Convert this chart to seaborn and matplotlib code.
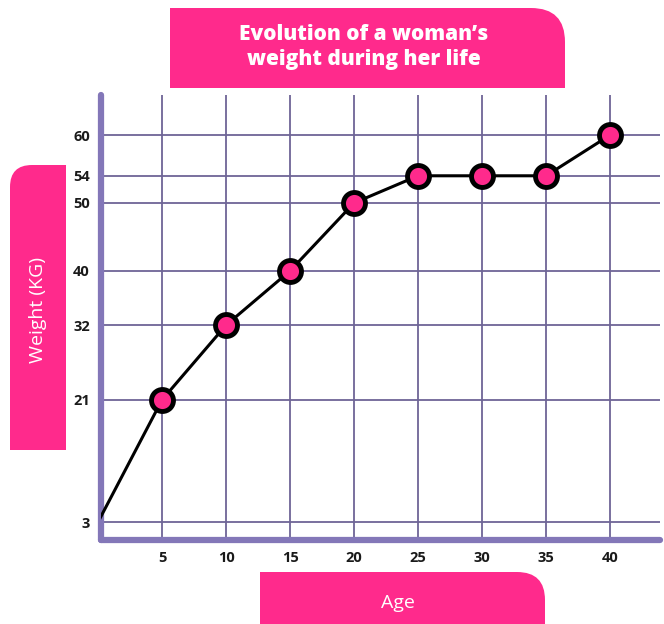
import matplotlib
matplotlib.use("Agg")
import matplotlib.pyplot as plt
from matplotlib.patches import FancyBboxPatch, Rectangle
import pandas as pd
import seaborn as sns

# Daten
alter = [0, 5, 10, 15, 20, 25, 30, 35, 40]
gewicht = [3, 21, 32, 40, 50, 54, 54, 54, 60]
x_ticks = [5, 10, 15, 20, 25, 30, 35, 40]
y_ticks = [3, 21, 32, 40, 50, 54, 60]

titel = "Evolution of a woman\u2019s\nweight during her life"
x_label = "Age"
y_label = "Weight (KG)"

PINK = "#ff2a8c"
LILA = "#8377b8"
GRID = "#6e6596"

df = pd.DataFrame({"alter": alter, "gewicht": gewicht})

sns.set_style("white")
plt.rcParams["font.family"] = ["Open Sans", "DejaVu Sans"]

fig = plt.figure(figsize=(6.64, 6.24), dpi=100)

# Hintergrund-Achse in Pixelkoordinaten fuer die pinken Kaesten
bg = fig.add_axes([0, 0, 1, 1], zorder=0)
bg.set_xlim(0, 664)
bg.set_ylim(624, 0)
bg.axis("off")


def kasten(x0, y0, x1, y1, r, ecke):
    """Pinker Kasten mit einer abgerundeten Ecke"""
    bg.add_patch(FancyBboxPatch((x0, y0), x1 - x0, y1 - y0,
                                boxstyle=f"round,pad=0,rounding_size={r}",
                                fc=PINK, ec="none"))
    if ecke == "oben_rechts":
        bg.add_patch(Rectangle((x0, y0), x1 - x0 - r, y1 - y0, fc=PINK, ec="none"))
        bg.add_patch(Rectangle((x0, y0 + r), x1 - x0, y1 - y0 - r, fc=PINK, ec="none"))
    else:  # oben_links
        bg.add_patch(Rectangle((x0 + r, y0), x1 - x0 - r, y1 - y0, fc=PINK, ec="none"))
        bg.add_patch(Rectangle((x0, y0 + r), x1 - x0, y1 - y0 - r, fc=PINK, ec="none"))


kasten(170, 8, 565, 88, 34, "oben_rechts")
kasten(10, 165, 66, 450, 22, "oben_links")
kasten(260, 572, 545, 640, 28, "oben_rechts")

bg.text(364, 47, titel, color="white", fontsize=15, fontweight="heavy",
        ha="center", va="center", linespacing=1.25)
bg.text(38, 310, y_label, color="white", fontsize=14, rotation=90,
        ha="center", va="center")
bg.text(398, 603, x_label, color="white", fontsize=14, ha="center", va="center")

# Hauptdiagramm
ax = fig.add_axes([101 / 664, 1 - 540 / 624, (660 - 101) / 664, (540 - 95) / 624], zorder=1)
ax.patch.set_alpha(0)

sns.lineplot(data=df, x="alter", y="gewicht", ax=ax, color="black", lw=2.2, zorder=3)
sns.scatterplot(data=df[df["alter"] > 0], x="alter", y="gewicht", ax=ax,
                s=250, color=PINK, edgecolor="black", linewidth=3.5, zorder=4)

ax.set_xlim(0.23, 43.9)
ax.set_ylim(0.35, 65.9)
ax.set_xticks(x_ticks)
ax.set_yticks(y_ticks)
ax.grid(True, color=GRID, lw=1.3)
ax.set_axisbelow(True)
ax.tick_params(length=0, labelsize=10.5, pad=8)
for lbl in ax.get_xticklabels() + ax.get_yticklabels():
    lbl.set_fontweight("bold")
    lbl.set_color("#1a1a1a")
ax.set_xlabel("")
ax.set_ylabel("")

sns.despine(ax=ax)
for s in ["left", "bottom"]:
    ax.spines[s].set_color(LILA)
    ax.spines[s].set_linewidth(4.5)
    ax.spines[s].set_capstyle("round")

fig.savefig("out.png", dpi=100)
